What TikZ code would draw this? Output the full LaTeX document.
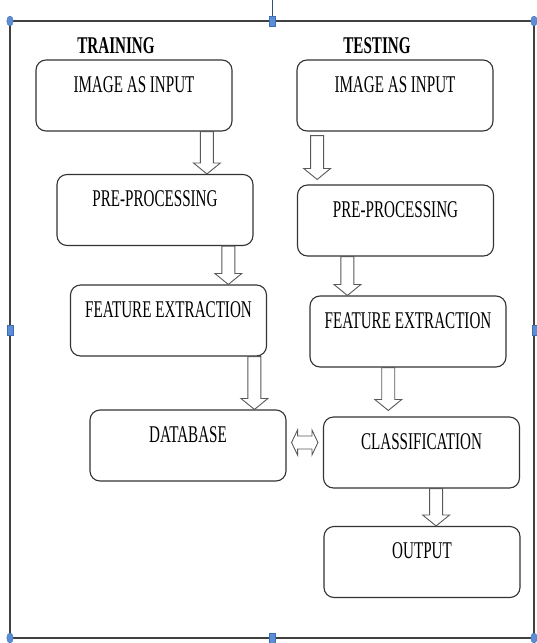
\documentclass[tikz,border=0pt]{standalone}
\usepackage{fontspec}
\usepackage{graphicx}
\setmainfont{Liberation Serif}
\usetikzlibrary{calc}
\definecolor{hblue}{HTML}{5B8ED6}
\definecolor{hbord}{HTML}{3F6DB5}
\tikzset{
  box/.style={draw=black!80, line width=1.1pt, rounded corners=10pt, minimum width=196pt, minimum height=71pt, inner sep=0pt},
  lbl/.style={font=\fontsize{24pt}{26pt}\selectfont, inner sep=0pt, anchor=base},
  hdr/.style={font=\fontsize{24pt}{26pt}\selectfont\bfseries, inner sep=0pt, anchor=base},
  barr/.style={draw=black!65, line width=0.9pt, fill=white, line join=miter},
  frame/.style={draw=black!75, line width=1.4pt},
  hcirc/.style={fill=hblue, draw=hbord, line width=0.4pt},
}
\newcommand\sq[1]{\scalebox{0.63}[1]{#1}}
\newcommand\barrow[2]{\draw[barr] let \p1=(#1), \p2=(#2) in
  (\x1-6.5pt,\y1) -- (\x1-6.5pt,\y2+11pt) -- (\x1-13.5pt,\y2+11pt) -- (\x1,\y2)
  -- (\x1+13.5pt,\y2+11pt) -- (\x1+6.5pt,\y2+11pt) -- (\x1+6.5pt,\y1) -- cycle;}
\newcommand\dblarrow[2]{\draw[barr] let \p1=(#1), \p2=(#2) in
  (\x1,\y1) -- (\x1+6pt,\y1+12.5pt) -- (\x1+6pt,\y1+6.5pt) -- (\x2-6pt,\y1+6.5pt)
  -- (\x2-6pt,\y1+12.5pt) -- (\x2,\y1) -- (\x2-6pt,\y1-12.5pt) -- (\x2-6pt,\y1-6.5pt)
  -- (\x1+6pt,\y1-6.5pt) -- (\x1+6pt,\y1-12.5pt) -- cycle;}
\begin{document}
\begin{tikzpicture}[x=1pt,y=-1pt]
\useasboundingbox (0,0) rectangle (536,643);
\fill[white] (0,0) rectangle (536,643);
% frame and handles
\draw[draw=black!45!hblue, line width=0.8pt] (272,0) -- (272,21);
\draw[frame] (10,21) rectangle (534,638);
\foreach \p in {(10,21),(534,21),(10,638),(534,638)}
  \draw[hcirc] \p ellipse [x radius=3.2pt, y radius=5pt];
\foreach \p in {(272,21),(272,638),(10,330),(535,330)}
  \draw[hcirc] \p ++(-3.2,-5) rectangle ++(6.4,10);
% headers
\node[hdr] (htr) at (116,53) {\sq{TRAINING}};
\node[hdr] (hte) at (377,53) {\sq{TESTING}};
% training boxes
\node[box] (trA) at (134,95.5) {};
\node[box] (trB) at (155,210) {};
\node[box] (trC) at (168.5,320.5) {};
\node[box] (trD) at (188,445.5) {};
% testing boxes
\node[box] (teA) at (395,95.5) {};
\node[box] (teB) at (395.5,220.5) {};
\node[box] (teC) at (408,331.5) {};
\node[box] (teD) at (421.5,452.5) {};
\node[box] (teE) at (422,562) {};
% labels
\node[lbl] (trAt) at ([yshift=-33pt]trA.north) {\sq{IMAGE AS INPUT}};
\node[lbl] (trBt) at ([yshift=-33pt]trB.north) {\sq{PRE-PROCESSING}};
\node[lbl] (trCt) at ([yshift=-33pt]trC.north) {\sq{FEATURE EXTRACTION}};
\node[lbl] (trDt) at ([yshift=-33pt]trD.north) {\sq{DATABASE}};
\node[lbl] (teAt) at ([yshift=-33pt]teA.north) {\sq{IMAGE AS INPUT}};
\node[lbl] (teBt) at ([yshift=-33pt]teB.north) {\sq{PRE-PROCESSING}};
\node[lbl] (teCt) at ([yshift=-33pt]teC.north) {\sq{FEATURE EXTRACTION}};
\node[lbl] (teDt) at ([yshift=-33pt]teD.north) {\sq{CLASSIFICATION}};
\node[lbl] (teEt) at ([yshift=-33pt]teE.north) {\sq{OUTPUT}};
% arrow end points
\coordinate (s1) at ($(trA.south west)!0.87!(trA.south east)$);
\coordinate (e1) at (s1 |- trB.north);
\coordinate (s2) at ($(trB.south west)!0.872!(trB.south east)$);
\coordinate (e2) at (s2 |- trC.north);
\coordinate (s3) at ($(trC.south west)!0.936!(trC.south east)$);
\coordinate (e3) at (s3 |- trD.north);
\coordinate[yshift=-4pt] (u1) at ($(teA.south west)!0.105!(teA.south east)$);
\coordinate[yshift=5pt] (f1) at (u1 |- teB.north);
\coordinate (u2) at ($(teB.south west)!0.256!(teB.south east)$);
\coordinate (f2) at (u2 |- teC.north);
\coordinate (u3) at ($(teC.south west)!0.40!(teC.south east)$);
\coordinate[yshift=6pt] (f3) at (u3 |- teD.north);
\coordinate (u4) at ($(teD.south west)!0.574!(teD.south east)$);
\coordinate (f4) at (u4 |- teE.north);
\coordinate[xshift=5pt, yshift=3pt] (dL) at (trD.east);
\coordinate[xshift=-5pt] (dR) at (dL -| teD.west);
% arrows
\barrow{s1}{e1}
\barrow{s2}{e2}
\barrow{s3}{e3}
\barrow{u1}{f1}
\barrow{u2}{f2}
\barrow{u3}{f3}
\barrow{u4}{f4}
\dblarrow{dL}{dR}
\end{tikzpicture}
\end{document}
